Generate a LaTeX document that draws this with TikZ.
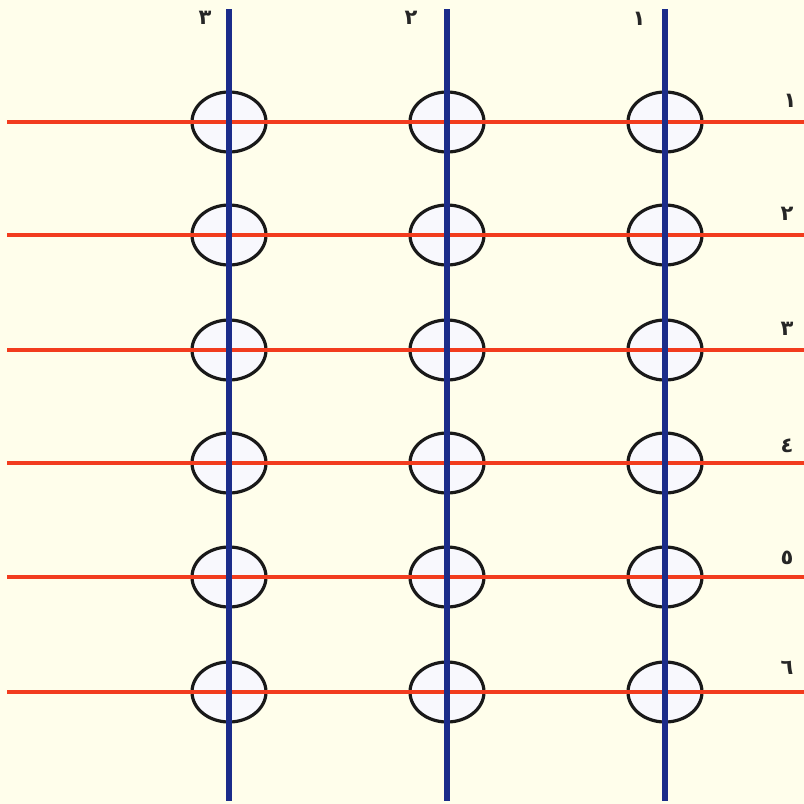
\documentclass[tikz,border=0pt]{standalone}
\usepackage{fontspec}
\newfontfamily\arabicfont[Script=Arabic]{DejaVu Sans}
\definecolor{bgc}{HTML}{FFFEEB}
\definecolor{redl}{HTML}{F23C1E}
\definecolor{bluel}{HTML}{1B2C8A}
\definecolor{ellf}{HTML}{F8F8FD}
\tikzset{
  ring/.style={ellipse, draw=black!90, line width=3.2pt, fill=ellf, minimum width=74pt, minimum height=60pt, inner sep=0pt},
  rowline/.style={draw=redl, line width=4.2pt},
  colline/.style={draw=bluel, line width=6pt},
  num/.style={font=\arabicfont\bfseries\fontsize{21}{21}\selectfont, inner sep=0pt, text=black!85}
}
\usetikzlibrary{shapes.geometric}
\begin{document}
\begin{tikzpicture}[x=1pt,y=-1pt]
\fill[bgc] (0,0) rectangle (804,804);
\useasboundingbox (0,0) rectangle (804,804);
% ellipses
\foreach \c/\x in {1/665,2/447,3/229}{
  \foreach \r/\y in {1/122,2/235,3/350,4/463,5/577,6/692}{
    \node[ring] (e\c\r) at (\x,\y) {};
  }
}
% row lines
\foreach \r/\y in {1/122,2/235,3/350,4/463,5/577,6/692}{
  \coordinate (rl\r) at (7,\y);
  \coordinate (rr\r) at (804,\y);
  \draw[rowline] (rl\r) -- (rr\r);
}
% column lines
\foreach \c/\x in {1/665,2/447,3/229}{
  \coordinate (ct\c) at (\x,9);
  \coordinate (cb\c) at (\x,801);
  \draw[colline] (ct\c) -- (cb\c);
}
% top labels
\node[num] (t3) at (205,18) {٣};
\node[num] (t2) at (411,18) {٢};
\node[num] (t1) at (639,19) {١};
% right labels
\node[num] (s1) at (790,101) {١};
\node[num] (s2) at (787,214) {٢};
\node[num] (s3) at (787,329) {٣};
\node[num] (s4) at (787,446) {٤};
\node[num] (s5) at (787,558) {٥};
\node[num] (s6) at (787,668) {٦};
\end{tikzpicture}
\end{document}
